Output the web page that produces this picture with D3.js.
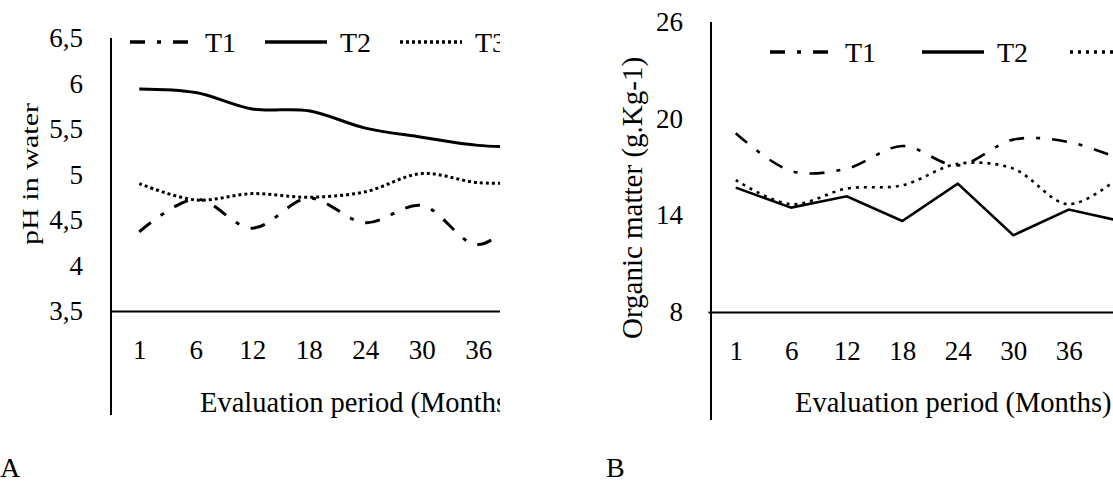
<!DOCTYPE html>
<html>
<head>
<meta charset="utf-8">
<script src="https://cdn.jsdelivr.net/npm/d3@7"></script>
</head>
<body style="margin:0; background:#fff">
<div id="chart"></div>
<script>
// Data (the 8th month is cut off by the crop)
const months = ["1", "6", "12", "18", "24", "30", "36", "42"];
const visibleMonths = ["1", "6", "12", "18", "24", "30", "36"];
const seriesNames = ["T1", "T2", "T3"];

// A: pH in water
const phT1 = [4.37, 4.73, 4.41, 4.74, 4.47, 4.66, 4.23, 4.70];
const phT2 = [5.94, 5.90, 5.72, 5.70, 5.51, 5.41, 5.32, 5.30];
const phT3 = [4.90, 4.72, 4.79, 4.75, 4.81, 5.01, 4.91, 4.91];
const phTicks = [3.5, 4, 4.5, 5, 5.5, 6, 6.5];

// B: organic matter
const omT1 = [19.1, 16.75, 16.9, 18.3, 17.1, 18.7, 18.55, 17.4];
const omT2 = [15.72, 14.48, 15.18, 13.65, 15.97, 12.76, 14.36, 13.6];
const omT3 = [16.18, 14.69, 15.66, 15.86, 17.2, 16.9, 14.69, 16.6];
const omTicks = [8, 14, 20, 26];

const width = 1113, height = 483;
const font = "Liberation Serif";

const svg = d3.select("#chart")
  .append("svg")
    .attr("width", width)
    .attr("height", height)
    .attr("font-family", font);

const smooth = d3.curveCatmullRom.alpha(0.5);

function drawPanel(opts) {
    const g = svg.append("g");
    if (opts.clip) {
        svg.append("clipPath").attr("id", opts.id + "-clip")
          .append("rect")
            .attr("x", 0).attr("y", 0)
            .attr("width", opts.clip).attr("height", height);
        g.attr("clip-path", `url(#${opts.id}-clip)`);
    }

    const x = d3.scalePoint()
      .domain(months)
      .range([opts.left, opts.left + opts.step * months.length])
      .padding(0.5);

    const y = d3.scaleLinear()
      .domain(opts.domain)
      .range([opts.bottom, opts.top]);

    // vertical axis line, runs on below the x axis
    g.append("line")
      .attr("x1", opts.vline).attr("x2", opts.vline)
      .attr("y1", opts.top).attr("y2", opts.axisBottom)
      .attr("stroke", "#000")
      .attr("stroke-width", 2);

    // y tick labels
    g.append("g")
      .attr("transform", `translate(${opts.vline},0)`)
      .call(d3.axisLeft(y).tickValues(opts.ticks).tickSize(0).tickPadding(28)
        .tickFormat(d => String(d).replace(".", ",")))
      .attr("font-family", font)
      .attr("font-size", 27)
      .call(ax => ax.select(".domain").remove())
      .selectAll("text").attr("fill", "#000");

    // x axis
    g.append("g")
      .attr("transform", `translate(0,${opts.bottom})`)
      .call(d3.axisBottom(x).tickValues(visibleMonths).tickSize(0).tickPadding(29).tickSizeOuter(0))
      .attr("font-family", font)
      .attr("font-size", 27)
      .call(ax => ax.select(".domain").attr("stroke", "#000").attr("stroke-width", 2))
      .selectAll("text").attr("fill", "#000");

    // axis titles
    g.append("text")
      .attr("x", opts.xTitleX)
      .attr("y", 412)
      .attr("font-size", 28.5)
      .text("Evaluation period (Months)");

    const yt = g.append("text")
      .attr("text-anchor", "middle")
      .attr("transform", `translate(${opts.yTitleX},${opts.yTitleY}) rotate(-90)`)
      .attr("font-size", opts.yTitleSize)
      .text(opts.yTitle);
    if (opts.yTitleLen) {
        yt.attr("textLength", opts.yTitleLen).attr("lengthAdjust", "spacingAndGlyphs");
    }

    // lines
    opts.series.forEach((vals, k) => {
        const line = d3.line()
          .x((d, i) => x(months[i]))
          .y(d => y(d))
          .curve(opts.curves[k]);
        g.append("path")
          .datum(vals)
          .attr("fill", "none")
          .attr("stroke", "#000")
          .attr("stroke-width", opts.lineWidth)
          .attr("stroke-dasharray", opts.dashes[k])
          .attr("d", line);
    });

    // legend
    seriesNames.forEach((name, k) => {
        const lx = opts.legendX[k];
        g.append("line")
          .attr("x1", lx).attr("x2", lx + opts.legendLen)
          .attr("y1", opts.legendY).attr("y2", opts.legendY)
          .attr("stroke", "#000")
          .attr("stroke-width", 3.3)
          .attr("stroke-dasharray", opts.dashes[k]);
        g.append("text")
          .attr("x", lx + opts.legendLen + 13)
          .attr("y", opts.legendY + 10)
          .attr("font-size", 28)
          .text(name);
    });

    // panel letter
    svg.append("text")
      .attr("x", opts.letterX)
      .attr("y", 477)
      .attr("font-size", 28)
      .text(opts.letter);
}

drawPanel({
    id: "a", clip: 500, letter: "A", letterX: 0,
    left: 111, vline: 111, step: 56.5, top: 38, bottom: 311, axisBottom: 415,
    domain: [3.5, 6.5], ticks: phTicks,
    series: [phT1, phT2, phT3],
    curves: [smooth, smooth, smooth],
    dashes: ["15,12,4,12", null, "3,3"], lineWidth: 3,
    xTitleX: 200,
    yTitle: "pH in water", yTitleX: 38, yTitleY: 174, yTitleSize: 24, yTitleLen: 142,
    legendX: [130, 265, 400], legendY: 42, legendLen: 62
});

drawPanel({
    id: "b", clip: null, letter: "B", letterX: 606,
    left: 708, vline: 711, step: 55.5, top: 22, bottom: 312, axisBottom: 420,
    domain: [8, 26], ticks: omTicks,
    series: [omT1, omT2, omT3],
    curves: [smooth, d3.curveLinear, smooth],
    dashes: ["15,12,4,12", null, "3,5"], lineWidth: 2.6,
    xTitleX: 795,
    yTitle: "Organic matter (g.Kg-1)", yTitleX: 642, yTitleY: 198, yTitleSize: 29,
    legendX: [770, 922, 1070], legendY: 52, legendLen: 62
});
</script>
</body>
</html>
